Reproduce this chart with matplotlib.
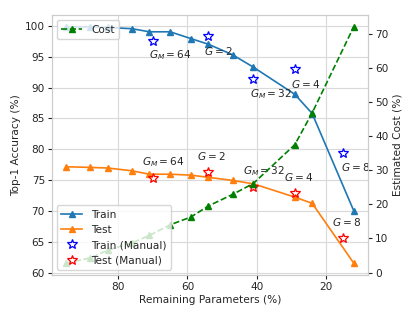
import matplotlib
matplotlib.use("Agg")
import matplotlib.pyplot as plt

# remaining parameters (%)
params = [95, 88, 83, 76, 71, 65, 59, 54, 47, 41, 29, 24, 12]
train_acc = [99.8, 99.8, 99.7, 99.5, 99.0, 99.0, 97.9, 97.0, 95.3, 93.3, 88.9, 85.8, 70.1]
test_acc = [77.2, 77.1, 77.0, 76.55, 76.0, 76.0, 75.85, 75.5, 75.0, 74.45, 72.3, 71.3, 61.65]
cost = [2.8, 4.3, 6.6, 8.7, 10.9, 14.0, 16.3, 19.5, 22.9, 26.1, 37.5, 46.8, 72.0]

# manually designed networks
manual_params = [70, 54, 41, 29, 15]
manual_train = [97.55, 98.35, 91.4, 93.05, 79.5]
manual_test = [75.35, 76.35, 73.95, 72.9, 65.75]
manual_labels = ["$G_M = 64$", "$G = 2$", "$G_M = 32$", "$G = 4$", "$G = 8$"]

# label positions (x, y on left axis)
top_label_pos = [(65, 95.2), (51, 95.9), (36, 89.0), (26, 90.6), (11.5, 77.2)]
bot_label_pos = [(67, 77.9), (53, 79.0), (38, 76.5), (28, 75.5), (14, 68.3)]

fs = 7.6
plt.rcParams.update({
    "font.size": fs,
    "text.color": "#262626",
    "axes.labelcolor": "#262626",
    "xtick.color": "#262626",
    "ytick.color": "#262626",
    "axes.edgecolor": "#cccccc",
    "grid.color": "#d9d9d9",
    "mathtext.fontset": "dejavusans",
})

fig = plt.figure(figsize=(4.15, 3.2), dpi=100)
ax = fig.add_axes([0.125, 0.141, 0.762, 0.812])
ax2 = ax.twinx()

l_train, = ax.plot(params, train_acc, "-^", color="#1f77b4", ms=4.5, lw=1.2, label="Train")
l_test, = ax.plot(params, test_acc, "-^", color="#ff7f0e", ms=4.5, lw=1.2, label="Test")
s_train, = ax.plot(manual_params, manual_train, "*", ms=7.5, mfc="none", mec="blue",
                   mew=0.9, ls="none", label="Train (Manual)")
s_test, = ax.plot(manual_params, manual_test, "*", ms=7.5, mfc="none", mec="red",
                  mew=0.9, ls="none", label="Test (Manual)")
l_cost, = ax2.plot(params, cost, "g--^", ms=4.5, lw=1.2, label="Cost")

for lab, (x, y) in zip(manual_labels, top_label_pos):
    ax.text(x, y, lab, ha="center", va="center", fontsize=fs)
for lab, (x, y) in zip(manual_labels, bot_label_pos):
    ax.text(x, y, lab, ha="center", va="center", fontsize=fs)

ax.invert_xaxis()
ax.grid(True, lw=0.8)
ax2.grid(False)
ax.set_xticks([80, 60, 40, 20])
ax.set_yticks([60, 65, 70, 75, 80, 85, 90, 95, 100])
ax2.set_yticks([0, 10, 20, 30, 40, 50, 60, 70])
for a in (ax, ax2):
    a.tick_params(length=3, width=0.8, color="#262626", pad=2)
    for sp in a.spines.values():
        sp.set_color("#cccccc")

ax.set_xlabel("Remaining Parameters (%)", labelpad=2)
ax.set_ylabel("Top-1 Accuracy (%)", labelpad=3)
ax2.set_ylabel("Estimated Cost (%)", labelpad=3)

leg1 = ax2.legend(handles=[l_cost], loc="upper left", fontsize=fs,
                  borderaxespad=0.5, handlelength=2.0)
ax2.add_artist(leg1)
ax2.legend(handles=[l_train, l_test, s_train, s_test], loc="lower left",
           fontsize=fs, borderaxespad=0.5, handlelength=2.0)

plt.savefig("out.png", dpi=100)
